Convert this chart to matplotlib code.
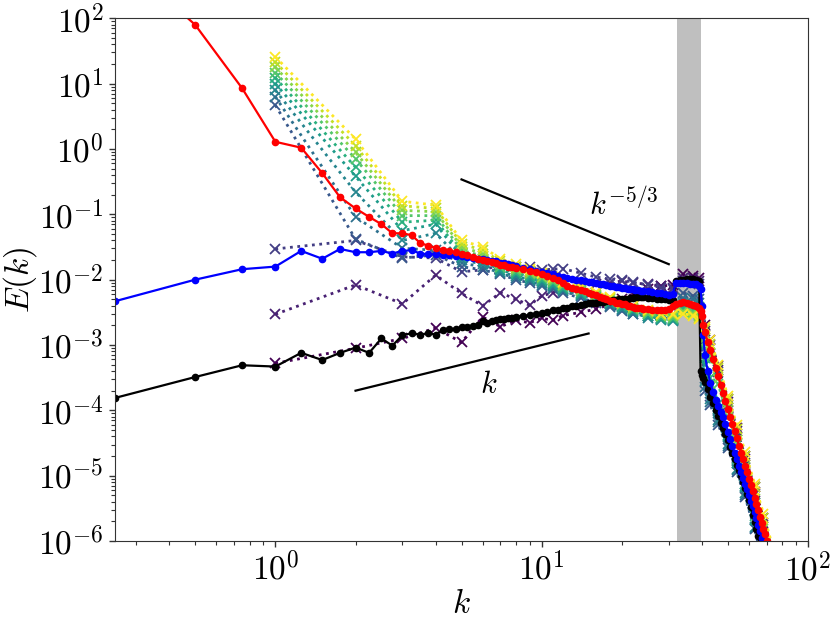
import numpy as np
import matplotlib
matplotlib.use('Agg')
import matplotlib.pyplot as plt
from matplotlib import ticker

plt.rcParams['mathtext.fontset'] = 'cm'

# wavenumber grid of the three averaged spectra
k = np.concatenate([np.arange(0.25, 8.01, 0.25), np.arange(8.5, 24.01, 0.5),
                    np.arange(25, 39.01, 1), [39.5, 40, 40.5], np.arange(41, 76.01, 1)])

# log10 E(k)
log_red = [3.00, 1.90, 0.93, 0.11, 0.02, -0.37, -0.74, -0.91, -1.04, -1.15, -1.29, -1.29,
           -1.32, -1.44, -1.48, -1.51, -1.54, -1.56, -1.58, -1.60, -1.63, -1.66, -1.68, -1.70,
           -1.71, -1.73, -1.75, -1.77, -1.78, -1.80, -1.81, -1.82,
           -1.84, -1.86, -1.88, -1.91, -1.94, -1.97, -2.01, -2.05, -2.09, -2.12, -2.14, -2.16,
           -2.18, -2.20, -2.22, -2.24, -2.26, -2.28, -2.30, -2.32, -2.33, -2.35, -2.36, -2.37,
           -2.38, -2.40, -2.41, -2.42, -2.43, -2.43, -2.44, -2.45,
           -2.45, -2.46, -2.46, -2.46, -2.46, -2.45, -2.41, -2.38, -2.35, -2.34, -2.35, -2.37,
           -2.39, -2.41, -2.44,
           -2.48, -2.56, -2.70,
           -2.80, -2.95, -3.08, -3.22, -3.35, -3.48, -3.61, -3.73, -3.86, -3.98,
           -4.10, -4.21, -4.32, -4.43, -4.54, -4.65, -4.75, -4.85, -4.95, -5.05,
           -5.15, -5.24, -5.34, -5.43, -5.53, -5.63, -5.72, -5.81, -5.90, -6.00,
           -6.09, -6.18, -6.27, -6.36, -6.45, -6.54]

log_blue = [-2.33, -2.00, -1.84, -1.80, -1.56, -1.68, -1.53, -1.58, -1.58, -1.56, -1.60, -1.56,
            -1.55, -1.60, -1.61, -1.61, -1.62, -1.62, -1.64, -1.64, -1.66, -1.67, -1.68, -1.69,
            -1.70, -1.71, -1.72, -1.74, -1.75, -1.76, -1.77, -1.79,
            -1.82, -1.84, -1.86, -1.88, -1.90, -1.92, -1.94, -1.96, -1.97, -1.99, -2.00, -2.01,
            -2.02, -2.03, -2.04, -2.05, -2.06, -2.07, -2.08, -2.09, -2.10, -2.11, -2.11, -2.12,
            -2.13, -2.14, -2.14, -2.15, -2.16, -2.16, -2.17, -2.17,
            -2.18, -2.19, -2.20, -2.21, -2.22, -2.23, -2.22, -2.05, -2.05, -2.05, -2.05, -2.06,
            -2.06, -2.07, -2.10,
            -2.15, -2.40, -2.85,
            -3.15, -3.40, -3.58, -3.72, -3.84, -3.94, -4.02, -4.10, -4.21, -4.33,
            -4.44, -4.55, -4.65, -4.75, -4.85, -4.95, -5.04, -5.13, -5.21, -5.30,
            -5.39, -5.47, -5.56, -5.65, -5.75, -5.85, -5.95, -6.05, -6.15, -6.25,
            -6.35, -6.45, -6.55, -6.65, -6.75, -6.85]

log_black = [-3.81, -3.49, -3.31, -3.33, -3.12, -3.23, -3.12, -3.04, -3.12, -2.90, -3.01, -2.85,
             -2.82, -2.84, -2.82, -2.84, -2.77, -2.76, -2.75, -2.73, -2.72, -2.71, -2.70, -2.64,
             -2.66, -2.63, -2.61, -2.60, -2.60, -2.58, -2.59, -2.57,
             -2.56, -2.54, -2.52, -2.51, -2.49, -2.47, -2.46, -2.44, -2.43, -2.41, -2.40, -2.39,
             -2.37, -2.36, -2.35, -2.35, -2.34, -2.34, -2.33, -2.32, -2.31, -2.31, -2.30, -2.30,
             -2.29, -2.29, -2.28, -2.28, -2.27, -2.27, -2.27, -2.27,
             -2.28, -2.28, -2.29, -2.30, -2.30, -2.31, -2.31, -2.02, -2.00, -2.00, -1.99, -1.99,
             -1.99, -2.00, -2.02,
             -3.40, -3.46, -3.51,
             -3.57, -3.68, -3.79, -3.89, -3.99, -4.09, -4.19, -4.27, -4.36, -4.46,
             -4.56, -4.65, -4.74, -4.83, -4.92, -5.01, -5.10, -5.19, -5.28, -5.37,
             -5.48, -5.60, -5.71, -5.82, -5.93, -6.04, -6.15, -6.26, -6.37, -6.48,
             -6.59, -6.70, -6.81, -6.92, -7.03, -7.14]

# snapshots (viridis, dotted with crosses), log10 E at integer k
kv = [1, 2, 3, 4, 5, 6, 7, 8, 9, 10, 11, 12, 14, 16, 18, 20, 22, 25, 28, 31, 34, 37, 39,
      41, 43, 46, 50, 54, 58, 63, 68, 74]
log_snap = [
    [-3.28, -3.05, -2.90, -2.74, -2.96, -2.57, -2.72, -2.62, -2.66, -2.59, -2.62, -2.55, -2.50, -2.45, -2.38, -2.30,
     -2.22, -2.15, -2.10, -2.08, -1.92, -1.95, -1.98, -2.70, -2.92, -3.32, -3.82, -4.27, -4.70, -5.18, -5.65, -6.20],
    [-2.53, -2.08, -2.37, -1.93, -2.21, -2.40, -2.20, -2.30, -2.39, -2.25, -2.20, -2.15, -2.10, -2.06, -2.05, -2.02,
     -2.05, -2.07, -2.10, -2.12, -1.98, -1.97, -2.02, -2.78, -3.00, -3.38, -3.88, -4.32, -4.75, -5.25, -5.72, -6.28],
    [-1.53, -1.40, -1.65, -1.67, -1.88, -1.85, -1.78, -1.80, -1.80, -1.85, -1.84, -1.83, -1.90, -1.96, -1.99, -2.00,
     -2.04, -2.08, -2.12, -2.14, -2.02, -2.03, -2.06, -2.85, -3.05, -3.42, -3.92, -4.36, -4.80, -5.28, -5.76, -6.30],
    [0.67, -1.38, -1.67, -1.62, -1.80, -1.85, -1.92, -2.00, -2.05, -2.10, -2.15, -2.20, -2.28, -2.35, -2.42, -2.48,
     -2.52, -2.55, -2.58, -2.60, -2.20, -2.25, -2.30, -3.70, -3.92, -4.22, -4.58, -4.95, -5.32, -5.82, -6.35, -7.00],
    [0.80, -1.04, -1.52, -1.55, -1.75, -1.80, -1.90, -1.98, -2.02, -2.08, -2.13, -2.18, -2.25, -2.32, -2.40, -2.46,
     -2.52, -2.56, -2.60, -2.62, -2.28, -2.30, -2.35, -3.65, -3.88, -4.18, -4.55, -4.92, -5.30, -5.80, -6.32, -7.00],
    [0.90, -0.66, -1.40, -1.29, -1.70, -1.76, -1.88, -1.95, -2.00, -2.05, -2.10, -2.16, -2.23, -2.30, -2.38, -2.45,
     -2.50, -2.58, -2.62, -2.64, -2.35, -2.38, -2.42, -3.55, -3.82, -4.15, -4.52, -4.90, -5.27, -5.78, -6.30, -6.95],
    [1.00, -0.42, -1.25, -1.15, -1.65, -1.72, -1.85, -1.92, -1.98, -2.02, -2.08, -2.14, -2.22, -2.28, -2.36, -2.42,
     -2.48, -2.55, -2.60, -2.62, -2.42, -2.45, -2.50, -3.30, -3.60, -3.98, -4.40, -4.80, -5.18, -5.68, -6.18, -6.80],
    [1.09, -0.28, -1.12, -1.09, -1.60, -1.68, -1.82, -1.90, -1.95, -2.00, -2.05, -2.12, -2.20, -2.27, -2.34, -2.40,
     -2.46, -2.53, -2.58, -2.60, -2.45, -2.48, -2.52, -3.20, -3.50, -3.90, -4.35, -4.75, -5.12, -5.62, -6.10, -6.70],
    [1.17, -0.15, -1.02, -1.02, -1.55, -1.64, -1.80, -1.87, -1.92, -1.98, -2.03, -2.10, -2.18, -2.25, -2.32, -2.38,
     -2.45, -2.52, -2.56, -2.58, -2.48, -2.50, -2.54, -2.95, -3.20, -3.60, -4.08, -4.52, -4.92, -5.42, -5.90, -6.48],
    [1.25, -0.05, -0.94, -0.96, -1.50, -1.60, -1.76, -1.84, -1.90, -1.96, -2.01, -2.08, -2.16, -2.23, -2.30, -2.37,
     -2.43, -2.50, -2.55, -2.56, -2.50, -2.52, -2.56, -2.90, -3.12, -3.52, -4.00, -4.45, -4.86, -5.35, -5.82, -6.38],
    [1.33, 0.05, -0.87, -0.91, -1.45, -1.55, -1.72, -1.80, -1.86, -1.92, -1.98, -2.05, -2.13, -2.21, -2.28, -2.35,
     -2.41, -2.48, -2.53, -2.54, -2.52, -2.54, -2.58, -2.75, -2.98, -3.35, -3.83, -4.28, -4.70, -5.18, -5.65, -6.20],
    [1.41, 0.15, -0.80, -0.86, -1.40, -1.50, -1.68, -1.76, -1.83, -1.90, -1.96, -2.03, -2.11, -2.19, -2.26, -2.33,
     -2.40, -2.47, -2.52, -2.52, -2.52, -2.55, -2.60, -2.72, -2.92, -3.30, -3.78, -4.22, -4.63, -5.12, -5.58, -6.12],
]

# forcing band and reference slopes
band = (32.3, 39.6)
k53 = np.array([5.0, 30.0])
k1 = np.array([2.0, 15.0])

fig = plt.figure(figsize=(8.3, 6.23), dpi=100)
ax = fig.add_axes([0.1386, 0.1316, 0.8349, 0.839])

ax.axvspan(band[0], band[1], color='0.75', lw=0, zorder=0)

colors = plt.cm.viridis(np.linspace(0, 1, len(log_snap)))
for c, row in zip(colors, log_snap):
    ax.loglog(kv, 10 ** np.array(row), ':x', color=c, lw=2, ms=7, mew=1.3)

ax.loglog(k, 10 ** np.array(log_black), '-o', color='k', lw=1.6, ms=4.5)
ax.loglog(k, 10 ** np.array(log_blue), '-o', color='b', lw=1.6, ms=4.5)
ax.loglog(k, 10 ** np.array(log_red), '-o', color='r', lw=1.6, ms=4.5)

ax.plot(k53, 5 * k53 ** (-5 / 3), 'k-', lw=1.6)
ax.plot(k1, 1e-4 * k1, 'k-', lw=1.6)
ax.text(15, 0.14, r'$k^{-5/3}$', fontsize=22, ha='left', va='center')
ax.text(6.3, 2.5e-4, r'$k$', fontsize=22, ha='center', va='center')

ax.set_xlim(0.25, 100)
ax.set_ylim(1e-6, 1e2)
ax.set_xlabel(r'$k$', fontsize=24, labelpad=0)
ax.set_ylabel(r'$E(k)$', fontsize=24, labelpad=-0.5)

fmt = ticker.FuncFormatter(lambda v, pos: r'$10^{%d}$' % round(np.log10(v)))
for axis in (ax.xaxis, ax.yaxis):
    axis.set_major_locator(ticker.LogLocator(base=10, numticks=20))
    axis.set_minor_locator(ticker.LogLocator(base=10, subs=np.arange(2, 10), numticks=20))
    axis.set_minor_formatter(ticker.NullFormatter())
    axis.set_major_formatter(fmt)
for sp in ax.spines.values():
    sp.set_color('0.2')
ax.tick_params(which='major', labelsize=24, length=4.5, width=1, color='0.2')
ax.tick_params(which='minor', length=2.8, width=0.8, color='0.2')

fig.savefig('out.png', dpi=100)
